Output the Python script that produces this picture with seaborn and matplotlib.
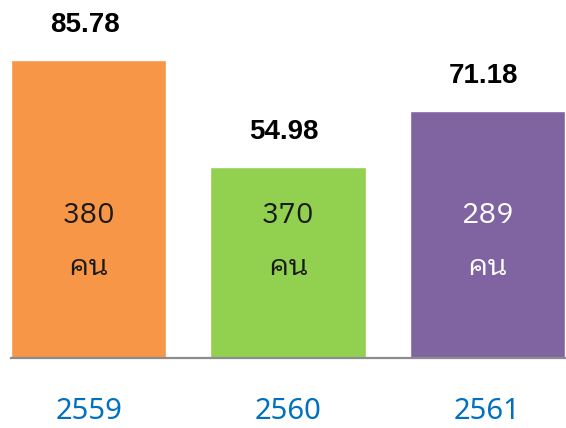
import matplotlib
matplotlib.use("Agg")
import matplotlib.pyplot as plt
import seaborn as sns
import pandas as pd

# ── data ─────────────────────────────────────────
years = ["2559", "2560", "2561"]
scores = [85.78, 54.98, 71.18]
people = [380, 370, 289]
unit = "คน"

bar_colors = ["#F79646", "#92D050", "#8064A2"]
inner_text_colors = ["#1a1a1a", "#1a1a1a", "#ffffff"]

sns.set_theme(style="white")
YEAR_FONT = ["Noto Sans Thai Looped", "DejaVu Sans"]
INNER_FONT = ["IBM Plex Sans Thai Looped", "Noto Sans Thai Looped", "DejaVu Sans"]

df = pd.DataFrame({"year": years, "score": scores})

fig = plt.figure(figsize=(5.66, 4.28), dpi=100)
ax = fig.add_axes([11 / 566, 70 / 428, 554 / 566, 358 / 428])

sns.barplot(data=df, x="year", y="score", hue="year", palette=bar_colors,
            width=0.78, legend=False, saturation=1, ax=ax)

ax.set_ylim(0, 103)
ax.set_xlim(-0.39, 2.39)
ax.set_xlabel("")
ax.set_ylabel("")
ax.set_yticks([])
for side in ["top", "left", "right"]:
    ax.spines[side].set_visible(False)
ax.spines["bottom"].set_color("#8c8c8c")
ax.spines["bottom"].set_linewidth(1.6)

ax.tick_params(axis="x", length=0, pad=28)
for lbl in ax.get_xticklabels():
    lbl.set_fontfamily(YEAR_FONT)
    lbl.set_fontsize(21)
    lbl.set_color("#0070C0")

for i, (s, n) in enumerate(zip(scores, people)):
    ax.annotate(f"{s:.2f}", (i, s), xytext=(-3, 25), textcoords="offset points",
                ha="center", va="center", fontsize=20, fontweight="bold",
                family=["Liberation Sans", "DejaVu Sans"], color="#000000")
    ax.text(i, 41, str(n), ha="center", va="center", fontsize=21,
            family=INNER_FONT, color=inner_text_colors[i])
    ax.text(i, 26, unit, ha="center", va="center", fontsize=21,
            family=INNER_FONT, color=inner_text_colors[i])

fig.savefig("out.png", dpi=100, facecolor="white")
